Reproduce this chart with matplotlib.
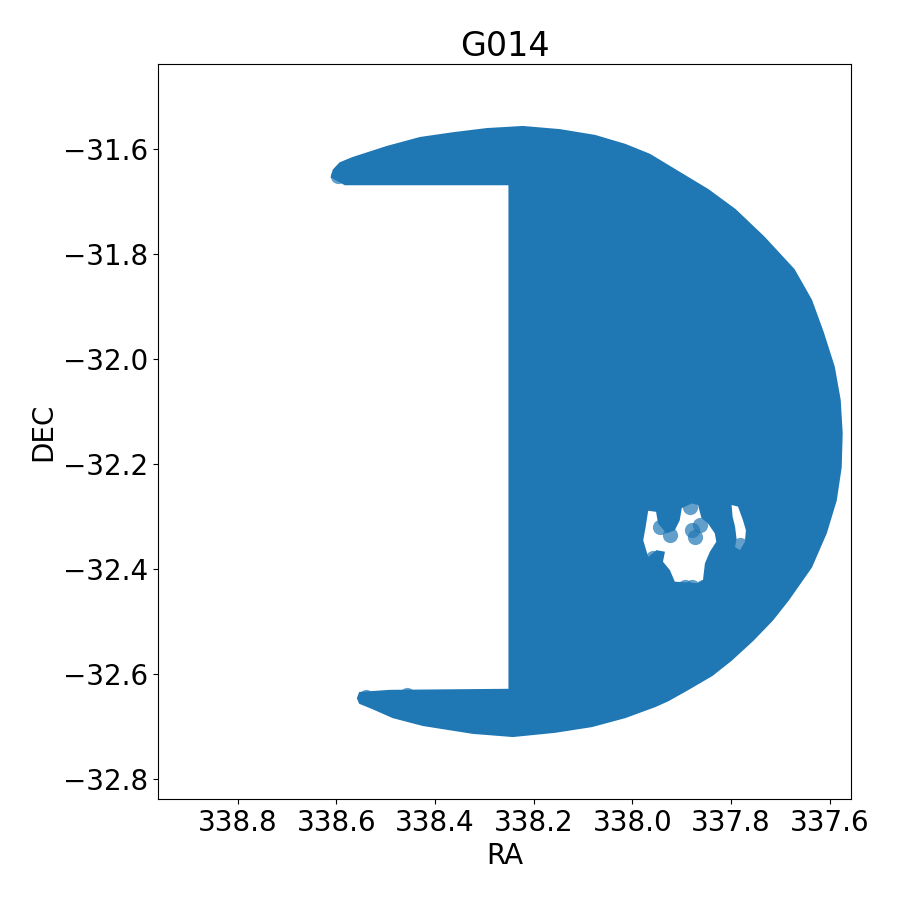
import matplotlib
matplotlib.use("Agg")
import matplotlib.pyplot as plt

# outline of the covered area (RA, DEC)
edge_ra = [338.609, 338.605, 338.592, 338.566, 338.497, 338.430, 338.364, 338.295,
           338.222, 338.147, 338.076, 338.015, 337.965, 337.914, 337.847, 337.792,
           337.734, 337.673, 337.638, 337.614, 337.592, 337.580, 337.576, 337.578,
           337.588, 337.608, 337.638, 337.685, 337.717, 337.756, 337.800, 337.839,
           337.890, 337.928, 337.954, 338.015, 338.082, 338.157, 338.242, 338.323,
           338.424, 338.485, 338.526, 338.552, 338.556, 338.552, 338.491, 338.249,
           338.249, 338.582]
edge_dec = [-31.653, -31.640, -31.627, -31.617, -31.596, -31.579, -31.570, -31.562,
            -31.558, -31.564, -31.575, -31.592, -31.611, -31.640, -31.678, -31.716,
            -31.768, -31.830, -31.888, -31.950, -32.015, -32.078, -32.141, -32.206,
            -32.269, -32.331, -32.396, -32.459, -32.497, -32.535, -32.573, -32.602,
            -32.630, -32.650, -32.661, -32.682, -32.699, -32.710, -32.718, -32.712,
            -32.697, -32.682, -32.665, -32.655, -32.646, -32.636, -32.632, -32.630,
            -31.667, -31.667]

# empty patches inside the field
hole1_ra = [337.968, 337.952, 337.948, 337.931, 337.914, 337.904, 337.900, 337.880,
            337.867, 337.860, 337.847, 337.833, 337.830, 337.843, 337.853, 337.857,
            337.867, 337.914, 337.924, 337.938, 337.934, 337.951, 337.968, 337.978,
            337.973]
hole1_dec = [-32.289, -32.291, -32.313, -32.332, -32.326, -32.307, -32.284, -32.275,
             -32.278, -32.303, -32.313, -32.332, -32.348, -32.367, -32.389, -32.421,
             -32.427, -32.424, -32.402, -32.386, -32.367, -32.364, -32.377, -32.345,
             -32.319]
hole2_ra = [337.799, 337.786, 337.776, 337.770, 337.772, 337.782, 337.792, 337.789,
            337.792, 337.797]
hole2_dec = [-32.278, -32.281, -32.307, -32.326, -32.348, -32.364, -32.358, -32.342,
             -32.319, -32.300]

# single sources that stand out
src_ra = [337.880, 337.863, 337.873, 337.924, 337.944, 337.894, 337.880, 337.857,
          337.958, 337.782, 337.884, 338.476, 338.456, 338.596, 338.540, 338.525]
src_dec = [-32.326, -32.316, -32.338, -32.335, -32.319, -32.434, -32.434, -32.435,
           -32.379, -32.354, -32.281, -32.654, -32.640, -31.651, -32.644, -32.650]

fig, ax = plt.subplots(figsize=(9, 9), dpi=100)
plt.subplots_adjust(left=0.1756, right=0.9456, top=0.9289, bottom=0.1122)

ax.fill(edge_ra, edge_dec, color='#1f77b4', lw=1.5)
ax.fill(hole1_ra, hole1_dec, color='white', lw=0)
ax.fill(hole2_ra, hole2_dec, color='white', lw=0)
ax.scatter(src_ra, src_dec, s=120, color='#1f77b4', alpha=0.7, lw=0)

ax.set_xlim(338.961, 337.557)
ax.set_ylim(-32.838, -31.438)
ax.set_xticks([338.8, 338.6, 338.4, 338.2, 338.0, 337.8, 337.6])
ax.set_yticks([-31.6, -31.8, -32.0, -32.2, -32.4, -32.6, -32.8])
ax.tick_params(labelsize=20)
ax.set_xlabel('RA', fontsize=20)
ax.set_ylabel('DEC', fontsize=20)
ax.set_title('G014', fontsize=24)

plt.savefig('out.png')
